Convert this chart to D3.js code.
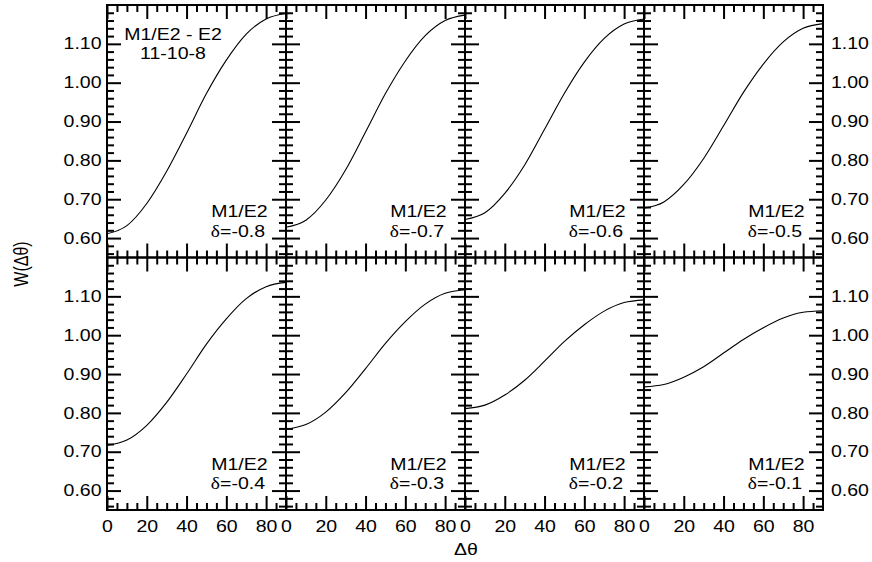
<!DOCTYPE html>
<html>
<head>
<meta charset="utf-8">
<script src="https://cdn.jsdelivr.net/npm/d3@7"></script>
<style>
  body { margin: 0; background: #fff; }
  text { font-family: "Liberation Sans", Arial, Helvetica, sans-serif; fill: #000; }
</style>
</head>
<body>
<svg id="chart" width="872" height="562"></svg>
<script>
// Angular correlation W(Δθ) for the 11-10-8 M1/E2 - E2 cascade, one panel per mixing ratio δ
const angles = [0, 10, 20, 30, 40, 50, 60, 70, 80, 90];
const deltas = ["-0.8", "-0.7", "-0.6", "-0.5", "-0.4", "-0.3", "-0.2", "-0.1"];

const wDeltaM08 = [0.611, 0.632, 0.689, 0.772, 0.870, 0.972, 1.058, 1.125, 1.164, 1.178];
const wDeltaM07 = [0.628, 0.646, 0.698, 0.776, 0.873, 0.972, 1.056, 1.121, 1.160, 1.174];
const wDeltaM06 = [0.648, 0.665, 0.715, 0.788, 0.880, 0.973, 1.053, 1.114, 1.151, 1.164];
const wDeltaM05 = [0.677, 0.693, 0.738, 0.805, 0.889, 0.975, 1.048, 1.105, 1.140, 1.152];
const wDeltaM04 = [0.716, 0.730, 0.768, 0.827, 0.900, 0.977, 1.042, 1.094, 1.125, 1.136];
const wDeltaM03 = [0.758, 0.770, 0.802, 0.852, 0.914, 0.979, 1.035, 1.080, 1.108, 1.117];
const wDeltaM02 = [0.811, 0.820, 0.846, 0.884, 0.933, 0.984, 1.027, 1.062, 1.084, 1.091];
const wDeltaM01 = [0.867, 0.873, 0.892, 0.919, 0.954, 0.989, 1.019, 1.044, 1.059, 1.063];

const seriesList = [wDeltaM08, wDeltaM07, wDeltaM06, wDeltaM05,
                    wDeltaM04, wDeltaM03, wDeltaM02, wDeltaM01];

const xMajorTicks = [0, 20, 40, 60, 80];
const xMinorTicks = [5, 10, 15, 25, 30, 35, 45, 50, 55, 65, 70, 75, 85];
const yMajorTicks = [0.60, 0.70, 0.80, 0.90, 1.00, 1.10];
const yMinorTicks = [0.56, 0.58, 0.62, 0.64, 0.66, 0.68, 0.72, 0.74, 0.76, 0.78,
                     0.82, 0.84, 0.86, 0.88, 0.92, 0.94, 0.96, 0.98,
                     1.02, 1.04, 1.06, 1.08, 1.12, 1.14, 1.16, 1.18];

const xDomain = [0, 90];
const yDomain = [0.55, 1.20];

// grid geometry
const gridLeft = 107, gridTop = 5;
const panelW = 179, panelH = 252.5;
const majorLen = 14, minorLen = 7;
const fontSize = 16, stretch = 1.22;

const svg = d3.select("#chart");
const fmt = d3.format(".2f");

function styleAxis(g) {
  g.select(".domain").remove();
  g.selectAll(".tick line").attr("stroke", "#000").attr("stroke-width", 2);
  g.selectAll(".tick text")
    .attr("font-size", fontSize)
    .attr("fill", "#000")
    .attr("font-family", "Liberation Sans, Arial, sans-serif")
    .attr("transform", `scale(${stretch},1)`);
}

seriesList.forEach((values, i) => {
  const col = i % 4, row = Math.floor(i / 4);
  const x0 = gridLeft + col * panelW;
  const y0 = gridTop + row * panelH;

  const x = d3.scaleLinear().domain(xDomain).range([x0, x0 + panelW]);
  const y = d3.scaleLinear().domain(yDomain).range([y0 + panelH, y0]);

  const panel = svg.append("g");

  // curve
  const line = d3.line()
    .x((d, k) => x(angles[k]))
    .y(d => y(d))
    .curve(d3.curveMonotoneX);
  panel.append("path")
    .datum(values)
    .attr("d", line)
    .attr("fill", "none")
    .attr("stroke", "#000")
    .attr("stroke-width", 1.1);

  // left / right axes (ticks pointing inward)
  panel.append("g").attr("transform", `translate(${x0},0)`)
    .call(d3.axisLeft(y).tickValues(yMajorTicks).tickSize(-majorLen).tickPadding(4.5)
      .tickFormat(col === 0 ? fmt : () => ""))
    .call(styleAxis);
  panel.append("g").attr("transform", `translate(${x0},0)`)
    .call(d3.axisLeft(y).tickValues(yMinorTicks).tickSize(-minorLen).tickFormat(() => ""))
    .call(styleAxis);
  panel.append("g").attr("transform", `translate(${x0 + panelW},0)`)
    .call(d3.axisRight(y).tickValues(yMajorTicks).tickSize(-majorLen).tickPadding(6.5)
      .tickFormat(col === 3 ? fmt : () => ""))
    .call(styleAxis);
  panel.append("g").attr("transform", `translate(${x0 + panelW},0)`)
    .call(d3.axisRight(y).tickValues(yMinorTicks).tickSize(-minorLen).tickFormat(() => ""))
    .call(styleAxis);

  // top / bottom axes
  panel.append("g").attr("transform", `translate(0,${y0})`)
    .call(d3.axisTop(x).tickValues(xMajorTicks).tickSize(-majorLen).tickFormat(() => ""))
    .call(styleAxis);
  panel.append("g").attr("transform", `translate(0,${y0})`)
    .call(d3.axisTop(x).tickValues(xMinorTicks).tickSize(-minorLen).tickFormat(() => ""))
    .call(styleAxis);
  panel.append("g").attr("transform", `translate(0,${y0 + panelH})`)
    .call(d3.axisBottom(x).tickValues(xMajorTicks).tickSize(-majorLen).tickPadding(11)
      .tickFormat(row === 1 ? d3.format("d") : () => ""))
    .call(styleAxis);
  panel.append("g").attr("transform", `translate(0,${y0 + panelH})`)
    .call(d3.axisBottom(x).tickValues(xMinorTicks).tickSize(-minorLen).tickFormat(() => ""))
    .call(styleAxis);

  // frame
  panel.append("rect")
    .attr("x", x0).attr("y", y0)
    .attr("width", panelW).attr("height", panelH)
    .attr("fill", "none").attr("stroke", "#000").attr("stroke-width", 2);

  // panel label
  const lab1 = panel.append("g")
    .attr("transform", `translate(${x0 + panelW - 18.5},${y0 + 212}) scale(${stretch},1)`);
  lab1.append("text").attr("text-anchor", "end").attr("font-size", fontSize).text("M1/E2");
  const lab2 = panel.append("g")
    .attr("transform", `translate(${x0 + panelW - 21},${y0 + 231.5}) scale(${stretch},1)`);
  const t2 = lab2.append("text").attr("text-anchor", "end").attr("font-size", fontSize);
  t2.append("tspan").attr("font-family", "Liberation Serif, Times New Roman, serif").text("δ");
  t2.append("tspan").text("=" + deltas[i]);
});

// cascade title in the first panel
const title = svg.append("g")
  .attr("transform", `translate(173,0) scale(${stretch},1)`);
title.append("text").attr("text-anchor", "middle").attr("y", 40)
  .attr("font-size", fontSize).text("M1/E2 - E2");
title.append("text").attr("text-anchor", "middle").attr("y", 59.5)
  .attr("font-size", fontSize).text("11-10-8");

// axis titles
svg.append("g")
  .attr("transform", `translate(466,555) scale(${stretch},1)`)
  .append("text").attr("text-anchor", "middle")
  .attr("font-size", 16)
  .attr("font-family", "Liberation Serif, Times New Roman, serif")
  .text("Δθ");

svg.append("g")
  .attr("transform", `translate(28,264) scale(${stretch},1) rotate(-90)`)
  .append("text").attr("text-anchor", "middle")
  .attr("font-size", 16)
  .text("W(Δθ)");
</script>
</body>
</html>
